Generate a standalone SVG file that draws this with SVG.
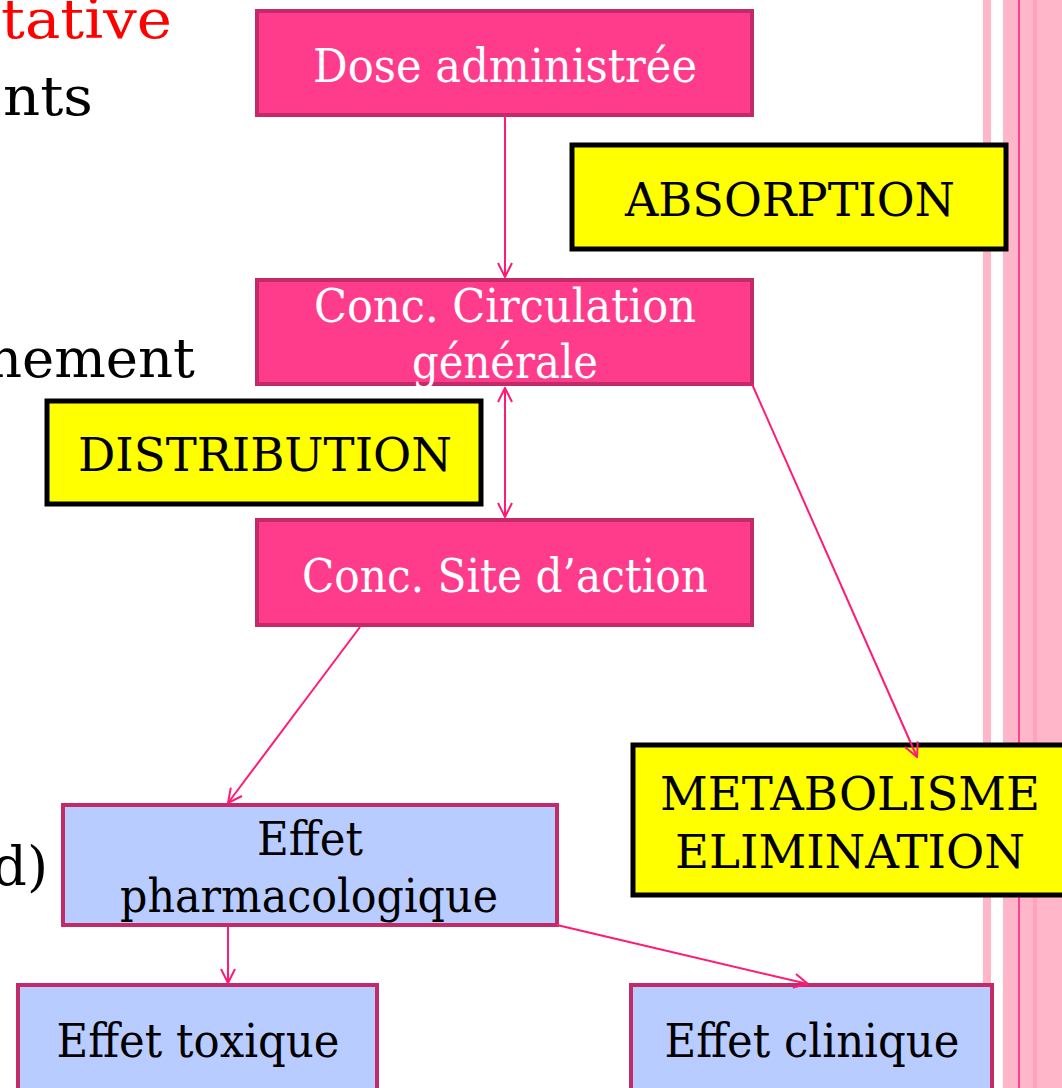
<svg xmlns="http://www.w3.org/2000/svg" width="1062" height="1088" viewBox="0 0 1062 1088">
<style>
text{font-family:"DejaVu Serif","Liberation Serif",serif;}
.pk{fill:#FF3C8C;stroke:#C22A68;stroke-width:4;}
.bl{fill:#B8CCFF;stroke:#C22A68;stroke-width:4;}
.yl{fill:#FFFF00;stroke:#000;stroke-width:5;}
.wt{fill:#fff;font-size:47px;text-anchor:middle;}
.bk{fill:#000;font-size:47px;text-anchor:middle;}
.bg{fill:#000;font-size:54px;text-anchor:end;}
.cn{stroke:#FF1A75;stroke-width:2;fill:none;}
</style>
<defs>
<marker id="ah" viewBox="0 0 16 16" refX="15" refY="8" markerWidth="16" markerHeight="16" markerUnits="userSpaceOnUse" orient="auto-start-reverse">
<path d="M1,1 L15,8 L1,15" fill="none" stroke="#FF1A75" stroke-width="2"/>
</marker>
</defs>
<rect width="1062" height="1088" fill="#fff"/>
<g id="stripes">
<rect x="983" y="0" width="8" height="1088" fill="#FFB6C8"/>
<rect x="1003" y="0" width="59" height="1088" fill="#FFB6C8"/>
<rect x="1033" y="0" width="4" height="1088" fill="#FFA3C0"/>
<rect x="1018" y="0" width="2" height="1088" fill="#FF4190"/>
</g>
<g id="background-text">
<text class="bg" x="172" y="38" style="fill:#FF0000" textLength="190" lengthAdjust="spacingAndGlyphs">itative</text>
<text class="bg" x="93" y="115" textLength="90" lengthAdjust="spacingAndGlyphs">nts</text>
<text class="bg" x="195" y="377" textLength="208" lengthAdjust="spacingAndGlyphs">nement</text>
<text class="bg" x="48" y="885">(d)</text>
</g>
<g id="dose">
<rect class="pk" x="257" y="11" width="495" height="104"/>
<text class="wt" x="505" y="82" textLength="384" lengthAdjust="spacingAndGlyphs">Dose administrée</text>
</g>
<g id="absorption">
<rect class="yl" x="572" y="145" width="434" height="104"/>
<text class="bk" x="790" y="216" textLength="330" lengthAdjust="spacingAndGlyphs">ABSORPTION</text>
</g>
<g id="circulation">
<rect class="pk" x="257" y="280" width="495" height="104"/>
<text class="wt" x="505" y="322" textLength="382" lengthAdjust="spacingAndGlyphs">Conc. Circulation</text>
<text class="wt" x="505" y="378" textLength="186" lengthAdjust="spacingAndGlyphs">générale</text>
</g>
<g id="distribution">
<rect class="yl" x="47" y="401" width="434" height="103"/>
<text class="bk" x="265" y="471" textLength="374" lengthAdjust="spacingAndGlyphs">DISTRIBUTION</text>
</g>
<g id="site">
<rect class="pk" x="257" y="520" width="495" height="105"/>
<text class="wt" x="505" y="592" textLength="406" lengthAdjust="spacingAndGlyphs">Conc. Site d’action</text>
</g>
<g id="metabolisme">
<rect class="yl" x="633" y="745" width="440" height="150"/>
<text class="bk" x="850" y="810" textLength="380" lengthAdjust="spacingAndGlyphs">METABOLISME</text>
<text class="bk" x="850" y="868" textLength="350" lengthAdjust="spacingAndGlyphs">ELIMINATION</text>
</g>
<g id="pharmaco">
<rect class="bl" x="63" y="805" width="494" height="120"/>
<text class="bk" x="310" y="855" textLength="106" lengthAdjust="spacingAndGlyphs">Effet</text>
<text class="bk" x="309" y="912" textLength="378" lengthAdjust="spacingAndGlyphs">pharmacologique</text>
</g>
<g id="toxique">
<rect class="bl" x="18" y="985" width="359" height="110"/>
<text class="bk" x="198" y="1057" textLength="283" lengthAdjust="spacingAndGlyphs">Effet toxique</text>
</g>
<g id="clinique">
<rect class="bl" x="631" y="985" width="361" height="110"/>
<text class="bk" x="812" y="1057" textLength="295" lengthAdjust="spacingAndGlyphs">Effet clinique</text>
</g>
<g id="connectors">
<line class="cn" x1="505" y1="116" x2="505" y2="277" marker-end="url(#ah)"/>
<line class="cn" x1="505" y1="388" x2="505" y2="517" marker-start="url(#ah)" marker-end="url(#ah)"/>
<line class="cn" x1="752" y1="384" x2="917" y2="757" marker-end="url(#ah)"/>
<line class="cn" x1="360" y1="627" x2="228" y2="803" marker-end="url(#ah)"/>
<line class="cn" x1="228" y1="927" x2="228" y2="983" marker-end="url(#ah)"/>
<line class="cn" x1="557" y1="925" x2="808" y2="984" marker-end="url(#ah)"/>
</g>
</svg>
